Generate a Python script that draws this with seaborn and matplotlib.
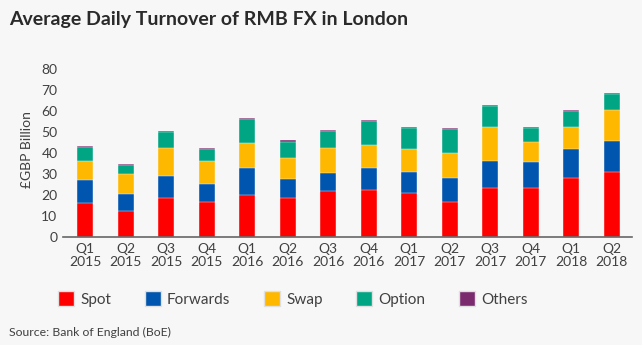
import numpy as np
import pandas as pd
import matplotlib
matplotlib.use("Agg")
import matplotlib.pyplot as plt
from matplotlib.patches import Patch
import seaborn as sns

quarters = ["Q1\n2015", "Q2\n2015", "Q3\n2015", "Q4\n2015", "Q1\n2016", "Q2\n2016", "Q3\n2016",
            "Q4\n2016", "Q1\n2017", "Q2\n2017", "Q3\n2017", "Q4\n2017", "Q1\n2018", "Q2\n2018"]
spot     = [16.4, 12.6, 18.6, 16.7, 19.9, 18.8, 21.7, 22.5, 21.0, 16.6, 23.1, 23.1, 28.0, 31.1]
forwards = [10.7, 7.8, 10.6, 8.6, 12.9, 8.9, 8.9, 10.3, 9.8, 11.3, 13.1, 12.6, 13.9, 14.5]
swap     = [9.2, 9.7, 13.0, 10.9, 12.1, 10.1, 11.9, 11.2, 11.3, 12.3, 16.4, 9.7, 10.7, 15.0]
option   = [6.7, 4.3, 7.8, 5.7, 11.5, 7.6, 8.0, 11.3, 9.7, 11.0, 9.7, 6.6, 7.3, 7.3]
others   = [0.4, 0.5, 0.5, 0.5, 0.5, 0.6, 0.5, 0.5, 0.5, 0.5, 0.5, 0.5, 0.5, 0.6]

series_names = ["Spot", "Forwards", "Swap", "Option", "Others"]
colors = ["#ff0000", "#0055ae", "#ffb800", "#00a683", "#7b2a6e"]

bg = "#f7f7f7"
sns.set_theme(style="white")
plt.rcParams["font.family"] = ["Lato", "DejaVu Sans"]

fig = plt.figure(figsize=(6.42, 3.45), dpi=100, facecolor=bg)
ax = fig.add_axes([63/642, 1 - 237/345, (632-63)/642, (237-62)/345])
ax.set_facecolor(bg)

data = [spot, forwards, swap, option, others]
cum = np.cumsum(np.array(data), axis=0)
df = pd.DataFrame({"quarter": quarters})
for i in range(len(series_names) - 1, -1, -1):
    df["v"] = cum[i]
    sns.barplot(data=df, x="quarter", y="v", color=colors[i], width=0.4,
                saturation=1, ax=ax, edgecolor=bg, linewidth=0.3)

ax.set_ylim(0, 80 * (237-62) / (237-69))
ax.set_xlim(-0.55, 13.5)
ax.set_yticks(range(0, 81, 10))
ax.tick_params(axis="both", labelsize=10, colors="#404040", length=0, pad=4)
ax.set_xlabel("")
ax.set_ylabel("£GBP Billion", fontsize=10, color="#404040", labelpad=6)
for s in ["top", "right", "left"]:
    ax.spines[s].set_visible(False)
ax.spines["bottom"].set_color("#666666")
ax.spines["bottom"].set_linewidth(1.2)
for lbl in ax.get_xticklabels():
    lbl.set_linespacing(1.1)

handles = [Patch(facecolor=c, edgecolor="#e0e0e0", label=n) for c, n in zip(colors, series_names)]
fig.legend(handles=handles, loc="center", bbox_to_anchor=(293/642, 1 - 299/345), ncol=5,
           frameon=False, fontsize=11, handlelength=1.05, handleheight=1.05,
           columnspacing=2.2, handletextpad=0.4, labelcolor="#404040")

fig.text(9/642, 1 - 19/345, "Average Daily Turnover of RMB FX in London", fontsize=14,
         fontweight="bold", color="#2a2a2a", va="center", ha="left")
fig.text(9/642, 1 - 332/345, "Source: Bank of England (BoE)", fontsize=8.8,
         color="#404040", va="center", ha="left")

fig.savefig("out.png", dpi=100, facecolor=bg)
